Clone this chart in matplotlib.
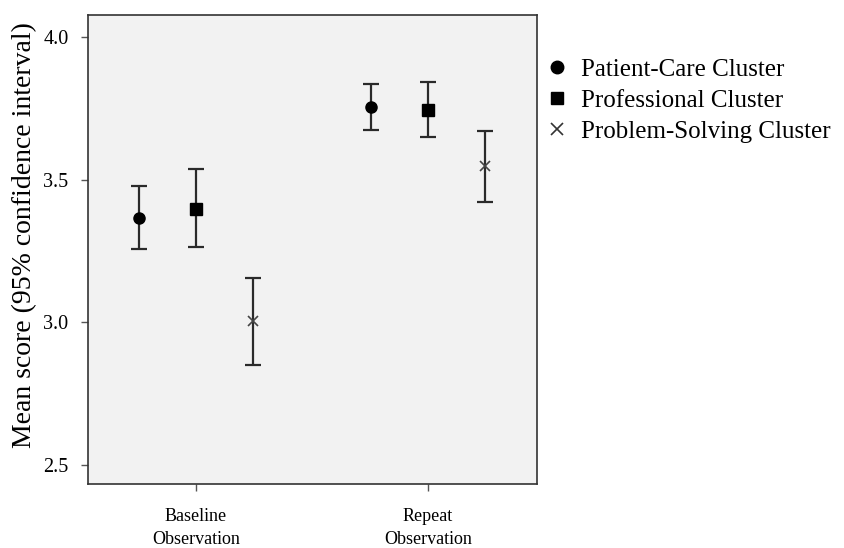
import matplotlib
matplotlib.use("Agg")
import matplotlib.pyplot as plt
from matplotlib.lines import Line2D

plt.rcParams['font.family'] = ['Liberation Serif', 'DejaVu Serif']

groups = ["Baseline\nObservation", "Repeat\nObservation"]
series = ["Patient-Care Cluster", "Professional Cluster", "Problem-Solving Cluster"]
means = {
    "Patient-Care Cluster": [3.367, 3.755],
    "Professional Cluster": [3.399, 3.745],
    "Problem-Solving Cluster": [3.004, 3.547],
}
lower = {
    "Patient-Care Cluster": [3.259, 3.675],
    "Professional Cluster": [3.263, 3.649],
    "Problem-Solving Cluster": [2.852, 3.422],
}
upper = {
    "Patient-Care Cluster": [3.479, 3.836],
    "Professional Cluster": [3.537, 3.843],
    "Problem-Solving Cluster": [3.156, 3.671],
}
yticks = [2.5, 3.0, 3.5, 4.0]

markers = {"Patient-Care Cluster": "o", "Professional Cluster": "s", "Problem-Solving Cluster": "x"}
msizes = {"Patient-Care Cluster": 8, "Professional Cluster": 8, "Problem-Solving Cluster": 7}
offsets = [-0.246, 0.0, 0.246]

fig = plt.figure(figsize=(8.45, 5.48), dpi=100)
ax = fig.add_axes([88/845, 1-484/548, (537-88)/845, (484-15)/548])
ax.set_facecolor('#f2f2f2')

for i, s in enumerate(series):
    for g in range(len(groups)):
        x = g + offsets[i]
        m = means[s][g]
        err = [[m - lower[s][g]], [upper[s][g] - m]]
        ax.errorbar([x], [m], yerr=err, fmt='none', ecolor='#2a2a2a',
                    elinewidth=1.6, capsize=5.5, capthick=1.6, zorder=2)
        if markers[s] == 'x':
            ax.plot([x], [m], marker='x', ms=msizes[s], mew=1.2, color='#444444', ls='none', zorder=3)
        else:
            ax.plot([x], [m], marker=markers[s], ms=msizes[s], color='black', ls='none', zorder=3)

ax.set_xlim(-0.466, 1.47)
ax.set_ylim(2.434, 4.077)
ax.set_xticks(range(len(groups)))
ax.set_xticklabels(groups, fontsize=13, linespacing=1.5)
ax.set_yticks(yticks)
ax.set_yticklabels([f"{v:.1f}" for v in yticks], fontsize=14.5)
ax.tick_params(axis='y', length=5, color='#555555', width=1, pad=9)
ax.tick_params(axis='x', length=5, color='#555555', width=1, pad=12)
fig.text(25/845, 1-235/548, "Mean score (95% confidence interval)", rotation=90,
         ha='center', va='center', fontsize=20)
for sp in ax.spines.values():
    sp.set_linewidth(1.2)
    sp.set_color('#333333')

handles = [
    Line2D([], [], marker='o', color='black', ls='none', ms=9),
    Line2D([], [], marker='s', color='black', ls='none', ms=9),
    Line2D([], [], marker='x', color='#333333', ls='none', ms=8, mew=1.2),
]
fig.legend(handles, series, loc='upper left', bbox_to_anchor=(547/845, 1-58/548),
           frameon=False, fontsize=18, handlelength=0.8, handletextpad=0.55,
           labelspacing=0.35, borderaxespad=0, borderpad=0)

fig.savefig("out.png", dpi=100)
